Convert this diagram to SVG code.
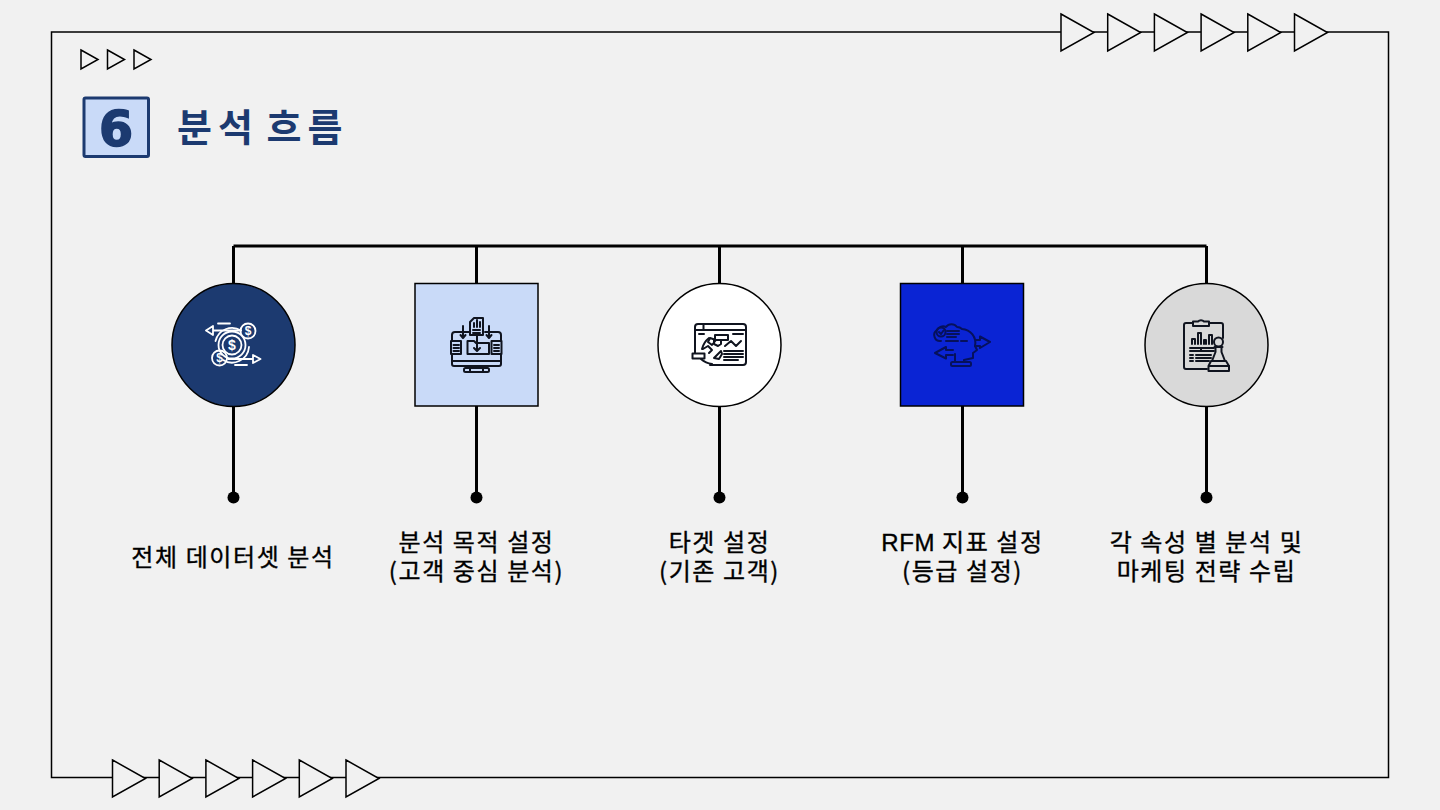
<svg xmlns="http://www.w3.org/2000/svg" width="1440" height="810" viewBox="0 0 1440 810">
<style>
.tri{fill:#f1f1f1;stroke:#000;stroke-width:1.5;stroke-linejoin:miter}
.wire{fill:none;stroke:#000;stroke-width:3}
.dot{fill:#000}
.shape{stroke:#000;stroke-width:1.5}
.lbl{font-family:"Noto Sans CJK KR","Noto Sans",sans-serif;font-size:24px;font-weight:400;fill:#000;stroke:#000;stroke-width:.35px;text-anchor:middle;letter-spacing:1.6px}
.ic{fill:none;stroke-width:2;stroke-linecap:round;stroke-linejoin:round}
.w{stroke:#fff;stroke-width:1.8}.d{stroke:#10141f}.n{stroke:#06115c}
.usd{font-family:"Liberation Sans",sans-serif;font-weight:700;fill:#fff;text-anchor:middle}
</style>
<defs><path id="t" class="tri" d="M0 0L33 18.500L0 37Z"/><path id="s" class="tri" d="M0 0L17 9.500L0 19Z"/></defs>
<rect width="1440" height="810" fill="#f1f1f1"/>
<g id="frame">
<rect x="51.500" y="32" width="1337" height="745.500" fill="none" stroke="#000" stroke-width="1.500"/>
<use href="#t" x="1061" y="14"/><use href="#t" x="1107.700" y="14"/><use href="#t" x="1154.400" y="14"/><use href="#t" x="1201.100" y="14"/><use href="#t" x="1247.800" y="14"/><use href="#t" x="1294.500" y="14"/>
<use href="#t" x="112.500" y="760"/><use href="#t" x="159.200" y="760"/><use href="#t" x="205.900" y="760"/><use href="#t" x="252.600" y="760"/><use href="#t" x="299.300" y="760"/><use href="#t" x="346" y="760"/>
<use href="#s" x="81" y="50"/><use href="#s" x="107.500" y="50"/><use href="#s" x="134" y="50"/>
</g>
<g id="title">
<rect x="84" y="98" width="64.500" height="58.500" rx="1.500" fill="#c9daf8" stroke="#1c3a70" stroke-width="3"/>
<text x="116" y="146" text-anchor="middle" font-family="DejaVu Sans,sans-serif" font-size="49" font-weight="700" fill="#1c3a70" stroke="#1c3a70" stroke-width="1.600">6</text>
<text x="177" y="141" font-family="Noto Sans CJK KR,sans-serif" font-size="38" font-weight="700" letter-spacing="6" word-spacing="-7" fill="#1c3a70">분석 흐름</text>
</g>
<g id="connectors">
<path class="wire" d="M233.500 246H1206.500"/>
<path class="wire" d="M233.500 246V497M476.500 246V497M719.500 246V497M962.500 246V497M1206.500 246V497"/>
<circle class="dot" cx="233.500" cy="497.500" r="6"/><circle class="dot" cx="476.500" cy="497.500" r="6"/><circle class="dot" cx="719.500" cy="497.500" r="6"/><circle class="dot" cx="962.500" cy="497.500" r="6"/><circle class="dot" cx="1206.500" cy="497.500" r="6"/>
</g>
<g id="node1">
<circle class="shape" cx="233.500" cy="345" r="61.500" fill="#1c3a70"/>
<g class="ic w">
<circle cx="232" cy="345" r="9.500"/><circle cx="232" cy="345" r="13.500"/><path d="M215.500 341A17 17 0 0 1 241 330.500M223 360A17 17 0 0 0 249 347"/>
<circle cx="248" cy="331" r="7.500"/><circle cx="219.500" cy="358" r="7.500"/>
<path d="M241 330.500H213M213 326L206 330.500L213 335ZM218 323.500H230M228 359H253M253 355L260.500 359L253 363ZM235 365H247"/>
</g>
<text class="usd" x="232" y="350" font-size="14">$</text>
<text class="usd" x="248" y="335" font-size="12">$</text>
<text class="usd" x="219.500" y="362" font-size="12">$</text>
<text class="lbl" x="233" y="566">전체 데이터셋 분석</text>
</g>
<g id="node2">
<rect class="shape" x="415" y="283.500" width="123" height="122.500" fill="#c9daf8"/>
<g class="ic d">
<path d="M452 341V335A3 3 0 0 1 455 332H469M485 332H498A3 3 0 0 1 501 335V341M452 354V361H501V354M452 361V364A2 2 0 0 0 454 366H499A2 2 0 0 0 501 364V361"/>
<path d="M470 371V366M483 366V371"/>
<rect x="464" y="368" width="25" height="4" rx="1.500"/>
<path d="M470 335V322L474 318H483V335Z"/>
<path d="M474 327V323M477 327V320M480 327V322M473 330H480M473 333H480"/>
<path d="M463 326V336M460.500 335L463 338L465.500 335M489 326V336M486.500 335L489 338L491.500 335M477 335V350M474 348L477 351L480 348"/>
<path d="M467.500 342V354H489V343H476L474 341H467.500Z"/>
<rect x="451" y="341" width="10" height="13"/><path d="M453.500 345H459M453.500 348H459M453.500 351H459"/>
<path d="M491.500 341H501.500V354H491.500Z"/><path d="M494 345H499M494 348H499M494 351H499"/>
</g>
<text class="lbl"><tspan x="476.500" y="551">분석 목적 설정</tspan><tspan x="476.500" y="580">(고객 중심 분석)</tspan></text>
</g>
<g id="node3">
<circle class="shape" cx="719.500" cy="345" r="61.500" fill="#fff"/>
<g class="ic d">
<path d="M695 353V327A3 3 0 0 1 698 324H743A3 3 0 0 1 746 327V362A3 3 0 0 1 743 365H710M695 330H746M703.500 324V330M699 334H704M733 334H743"/>
<path d="M702 349A20 20 0 0 1 709 338M703 349L708 346L712 350L709 353M701 359A20 20 0 0 0 712 364"/>
<path d="M710 338L716 340L712 345L708 342ZM714 358L721 351L722 354L719 359Z"/>
<rect x="715" y="335" width="13" height="5"/><path d="M714 340V344L718 346L721 344V340"/>
<rect x="692.500" y="353.500" width="12" height="5"/>
<path d="M725 346L731 341L736 346L741 341"/>
<path d="M724 351H743M724 354H743M724 357H743M724 360H738"/>
</g>
<text class="lbl"><tspan x="719.500" y="551">타겟 설정</tspan><tspan x="719.500" y="580">(기존 고객)</tspan></text>
</g>
<g id="node4">
<rect class="shape" x="900.500" y="283.500" width="123" height="122.500" fill="#0a24d4"/>
<g class="ic n">
<path d="M941 341A6 6 0 0 1 937 330A7 7 0 0 1 946 327A7 7 0 0 1 957 327A7 7 0 0 1 962 329A14 14 0 0 1 975 346L977 350L973 353V358L964 360V362H955V354M946 341H958M961 341H967"/>
<circle cx="941" cy="332" r="4.500"/><path d="M939 332L941 334L943.500 330.500M947 331H959M947 334H959M947 337H956"/>
<path d="M976 340H980V336.500L990 342L980 348V346H975"/>
<path d="M953 350H946V347L935 353L946 358.500V355H953"/>
<rect x="951" y="362" width="20" height="4" rx="1.500"/>
</g>
<text class="lbl"><tspan x="962.500" y="551"><tspan font-family="Liberation Sans,sans-serif" letter-spacing=".6">RFM</tspan> 지표 설정</tspan><tspan x="962.500" y="580">(등급 설정)</tspan></text>
</g>
<g id="node5">
<circle class="shape" cx="1206.500" cy="345" r="61.500" fill="#d9d9d9"/>
<g class="ic d">
<path d="M1207 369H1186A2 2 0 0 1 1184 367V325A2 2 0 0 1 1186 323H1193M1209 323H1221A2 2 0 0 1 1223 325V338"/>
<path d="M1193 326V321.500H1198A4 4 0 0 1 1204 321.500H1209V326Z"/>
<path d="M1192 344V339H1195V344M1198 344V333H1201V344M1204 344V340H1206V344M1209 344V335H1212V344M1190 348H1214M1190 351H1214M1201 348V351M1190 355H1193M1196 355H1211M1190 358H1193M1196 358H1211M1190 361H1193M1196 361H1209"/>
<circle cx="1218.500" cy="342" r="4.500"/>
<path d="M1214.500 347H1222.500M1215.500 347V352L1212 361M1221.500 347V352L1225 361M1211 361H1226M1208.500 366V371H1229V366L1226 361H1211Z"/>
<path d="M1209 366H1229"/>
</g>
<text class="lbl"><tspan x="1206.500" y="551">각 속성 별 분석 및</tspan><tspan x="1206.500" y="580">마케팅 전략 수립</tspan></text>
</g>
</svg>
